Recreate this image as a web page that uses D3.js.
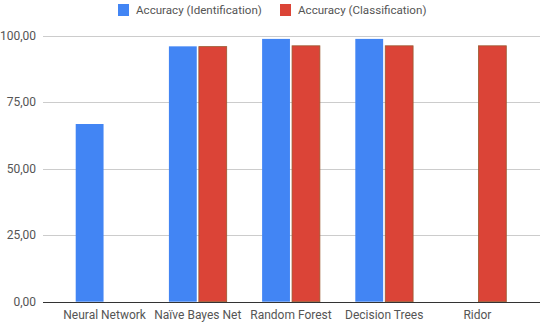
<!DOCTYPE html>
<html lang="en">
<head>
    <meta charset="UTF-8">
    <title>Accuracy</title>
    <script src="https://d3js.org/d3.v7.min.js"></script>
    <style>
        body { margin: 0; background: #fff; }
        text { font-family: Roboto, "Noto Sans", sans-serif; }
    </style>
</head>
<body>
    <div id="chart"></div>
    <script>
        const width = 550;
        const height = 323;

        // Data
        const categories = ["Neural Network", "Naïve Bayes Net", "Random Forest", "Decision Trees", "Ridor"];
        const seriesNames = ["Accuracy (Identification)", "Accuracy (Classification)"];
        const identification = [66.8, 96.0, 98.8, 98.8, null];
        const classification = [null, 95.9, 96.2, 96.2, 96.2];
        const yTicks = [0, 25, 50, 75, 100];
        const colors = ["#4285f4", "#db4437"];

        const gridLeft = 43, gridRight = 540;
        const plotLeft = 58, plotRight = 524;
        const plotTop = 35.7, plotBottom = 301.7;
        const textColor = "#555";

        const svg = d3.select("#chart").append("svg")
            .attr("width", width)
            .attr("height", height);

        const x = d3.scaleBand()
            .domain(categories)
            .range([plotLeft, plotRight])
            .paddingInner(0.38)
            .paddingOuter(0.19);

        const xSub = d3.scaleBand()
            .domain([0, 1])
            .range([0, x.bandwidth()])
            .paddingInner(0.07);

        const y = d3.scaleLinear()
            .domain([0, 100])
            .range([plotBottom, plotTop]);

        // gridlines
        svg.append("g")
            .selectAll("line")
            .data(yTicks.filter(d => d > 0))
            .join("line")
            .attr("x1", gridLeft)
            .attr("x2", gridRight)
            .attr("y1", d => Math.round(y(d)) + 0.5)
            .attr("y2", d => Math.round(y(d)) + 0.5)
            .attr("stroke", "#cccccc")
            .attr("stroke-width", 1);

        // y labels
        svg.append("g")
            .selectAll("text")
            .data(yTicks)
            .join("text")
            .attr("x", 36)
            .attr("y", d => y(d))
            .attr("dy", "0.35em")
            .attr("text-anchor", "end")
            .attr("font-size", 12)
            .attr("fill", textColor)
            .text(d => d3.format(".2f")(d).replace(".", ","));

        // bars
        const series = [identification, classification];
        series.forEach((vals, s) => {
            svg.append("g")
                .selectAll("rect")
                .data(categories.map((c, i) => ({ c, v: vals[i] })).filter(d => d.v != null))
                .join("rect")
                .attr("x", d => x(d.c) + xSub(s))
                .attr("y", d => y(d.v))
                .attr("width", xSub.bandwidth())
                .attr("height", d => plotBottom - y(d.v))
                .attr("fill", colors[s])
                .attr("stroke", s === 1 ? "#9a5a30" : "none")
                .attr("stroke-width", s === 1 ? 0.8 : 0);
        });

        // baseline
        svg.append("line")
            .attr("x1", gridLeft)
            .attr("x2", gridRight)
            .attr("y1", Math.round(plotBottom) + 0.5)
            .attr("y2", Math.round(plotBottom) + 0.5)
            .attr("stroke", "#333")
            .attr("stroke-width", 1);

        // category labels
        svg.append("g")
            .selectAll("text")
            .data(categories)
            .join("text")
            .attr("x", d => x(d) + x.bandwidth() / 2)
            .attr("y", 315)
            .attr("dy", "0.35em")
            .attr("text-anchor", "middle")
            .attr("font-size", 12)
            .attr("fill", textColor)
            .text(d => d);

        // legend
        const legendX = [118, 280];
        const legend = svg.append("g")
            .selectAll("g")
            .data(seriesNames)
            .join("g")
            .attr("transform", (d, i) => `translate(${legendX[i]},4)`);
        legend.append("rect")
            .attr("width", 11)
            .attr("height", 12)
            .attr("fill", (d, i) => colors[i]);
        legend.append("text")
            .attr("x", 18)
            .attr("y", 6)
            .attr("dy", "0.35em")
            .attr("font-size", 11.6)
            .attr("fill", textColor)
            .text(d => d);
    </script>
</body>
</html>
